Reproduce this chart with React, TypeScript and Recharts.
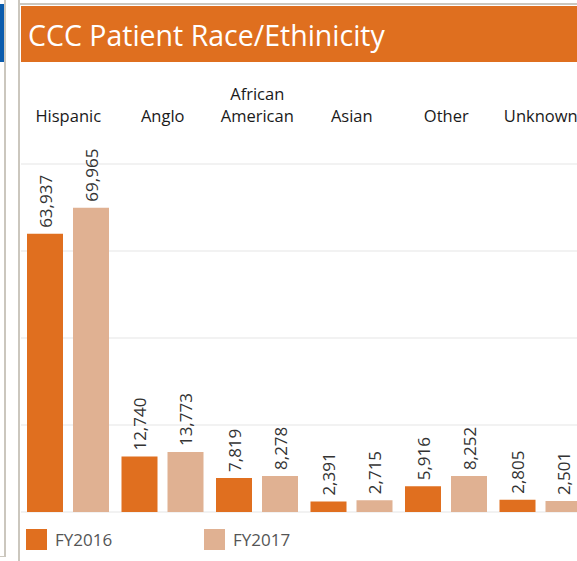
import React from "react";
import {
  BarChart,
  Bar,
  XAxis,
  YAxis,
  CartesianGrid,
  LabelList,
  Legend,
} from "recharts";

// values
const categories = ["Hispanic", "Anglo", "African American", "Asian", "Other", "Unknown"];
const fy2016 = [63937, 12740, 7819, 2391, 5916, 2805];
const fy2017 = [69965, 13773, 8278, 2715, 8252, 2501];
const yTicks = [0, 20000, 40000, 60000, 80000];

const ORANGE = "#E06F1F";
const PEACH = "#E0B192";
const FONT = "'Open Sans', 'Noto Sans', sans-serif";

const data = categories.map((name, i) => ({
  name,
  FY2016: fy2016[i],
  FY2017: fy2017[i],
}));

function CategoryTick(props: any) {
  const { x, y, payload } = props;
  const label: string = payload.value;
  // long names wrap onto two lines, like Tableau does
  const lines = label.length > 10 ? label.split(" ") : [label];
  return (
    <g>
      {lines.map((line, i) => (
        <text
          key={line}
          x={x}
          y={y - (lines.length - 1 - i) * 22}
          textAnchor="middle"
          fontSize={16.5}
          fontFamily={FONT}
          fill="#1a1a1a"
        >
          {line}
        </text>
      ))}
    </g>
  );
}

function ValueLabel(props: any) {
  const { x, y, width, value } = props;
  const cx = x + width / 2;
  const top = y - 6;
  return (
    <text
      transform={`translate(${cx}, ${top}) rotate(-90)`}
      textAnchor="start"
      dominantBaseline="central"
      fontSize={17}
      fontFamily={FONT}
      fill="#333"
    >
      {Number(value).toLocaleString("en-US")}
    </text>
  );
}

function LegendBox({ payload }: any) {
  return (
    <div style={{ display: "flex" }}>
      {payload.map((p: any) => (
        <div
          key={p.value}
          style={{ width: 178, display: "flex", alignItems: "center" }}
        >
          <span
            style={{
              display: "inline-block",
              width: 21,
              height: 21,
              background: p.color,
              marginRight: 8,
            }}
          />
          <span style={{ fontSize: 17, fontFamily: FONT, color: "#555" }}>
            {p.value}
          </span>
        </div>
      ))}
    </div>
  );
}

export default function App() {
  return (
    <div
      style={{
        position: "absolute",
        left: 0,
        top: 0,
        width: 577,
        height: 561,
        overflow: "hidden",
        background: "#fff",
      }}
    >
      {/* neighbouring dashboard panel bits */}
      <div style={{ position: "absolute", left: 0, top: 4, width: 4, height: 58, background: "#0B5CAD" }} />
      <div style={{ position: "absolute", left: 4, top: 0, width: 2, height: 557, background: "#CBC7BE" }} />
      <div style={{ position: "absolute", left: 0, top: 556, width: 6, height: 1, background: "#CBC7BE" }} />
      <div style={{ position: "absolute", left: 18, top: 0, width: 2, height: 561, background: "#CBC7BE" }} />
      <div style={{ position: "absolute", left: 18, top: 3, width: 559, height: 2, background: "#CBC7BE" }} />

      <div style={{ position: "absolute", left: 0, top: 0 }}>
        <BarChart
          width={600}
          height={561}
          data={data}
          margin={{ top: 98, right: 12, left: 21, bottom: 49 }}
          barSize={36}
          barGap={10}
        >
          <CartesianGrid
            vertical={false}
            stroke="#EEEEEE"
            strokeWidth={1.5}
          />
          <XAxis
            dataKey="name"
            orientation="top"
            height={66}
            axisLine={false}
            tickLine={false}
            tickSize={0}
            tickMargin={42}
            interval={0}
            tick={<CategoryTick />}
          />
          <YAxis hide domain={[0, 80000]} ticks={yTicks} />
          <Legend
            layout="horizontal"
            verticalAlign="middle"
            align="center"
            content={<LegendBox />}
            wrapperStyle={{ left: 26, top: 528, width: 400, height: 21 }}
          />
          <Bar dataKey="FY2016" fill={ORANGE} isAnimationActive={false}>
            <LabelList dataKey="FY2016" content={<ValueLabel />} />
          </Bar>
          <Bar dataKey="FY2017" fill={PEACH} isAnimationActive={false}>
            <LabelList dataKey="FY2017" content={<ValueLabel />} />
          </Bar>
        </BarChart>
      </div>

      <div
        style={{
          position: "absolute",
          left: 21,
          top: 6,
          width: 556,
          height: 56,
          background: "#DF6F1F",
          color: "#fff",
          fontFamily: FONT,
          fontSize: 28.5,
          lineHeight: "58px",
          paddingLeft: 7,
          boxSizing: "border-box",
          whiteSpace: "nowrap",
        }}
      >
        CCC Patient Race/Ethinicity
      </div>
    </div>
  );
}
